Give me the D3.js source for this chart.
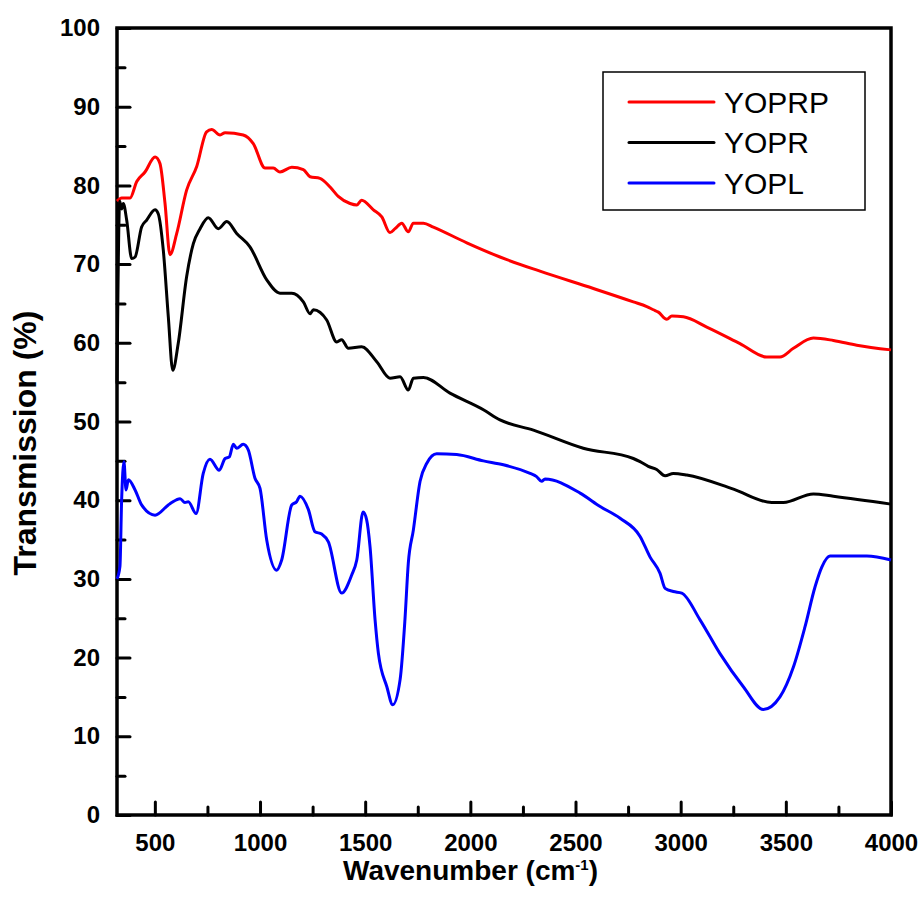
<!DOCTYPE html>
<html>
<head>
<meta charset="utf-8">
<script src="https://cdn.jsdelivr.net/npm/d3@7"></script>
<style>
  body { margin: 0; background: #fff; }
  text { font-family: "Liberation Sans", Arial, sans-serif; }
</style>
</head>
<body>
<script>
var width = 924,
  height = 900;

// spectra: [wavenumber, transmission]
var yoprp = [[320,78],[342,78.4],[382,78.4],[414,80.5],[453,81.7],[501,83.6],[524,82.8],[548,77.8],[572,71.2],[604,73.9],
  [651,79.4],[699,82.4],[746,86.8],[770,87.1],[810,86.4],[834,86.7],[920,86.4],[968,85.3],[1024,82.2],[1063,82.2],
  [1095,81.7],[1151,82.3],[1206,82.0],[1238,81.1],[1285,80.9],[1333,79.8],[1372,78.6],[1428,77.7],[1460,77.5],[1483,78.1],
  [1539,76.9],[1579,76.0],[1618,74.0],[1642,74.5],[1674,75.2],[1705,74.1],[1729,75.2],[1777,75.2],[1824,74.7],[1983,72.7],
  [2141,70.9],[2331,69.1],[2585,66.9],[2775,65.2],[2839,64.6],[2870,64.2],[2894,63.9],[2934,63.0],[2958,63.4],[3013,63.3],
  [3124,62.0],[3282,59.9],[3409,58.2],[3472,58.2],[3536,59.3],[3631,60.6],[3726,60.3],[3837,59.7],[4000,59.1]];

var yopr = [[320,55],[333,78],[342,77],[350,77.7],[366,75.6],[390,70.7],[406,70.9],[437,74.7],[461,75.6],[501,76.9],
  [516,76.4],[540,71.8],[564,63.3],[585,56.5],[611,59.9],[651,68.4],[683,72.6],[715,74.5],[754,75.9],[802,74.5],
  [842,75.4],[889,73.9],[952,72.2],[1032,68.0],[1095,66.3],[1151,66.3],[1206,65.2],[1238,63.7],[1254,64.2],[1317,62.9],
  [1365,60.1],[1388,60.4],[1420,59.3],[1483,59.5],[1555,57.6],[1618,55.5],[1666,55.7],[1705,54.0],[1729,55.5],[1777,55.6],
  [1903,53.6],[2062,51.5],[2141,50.2],[2300,48.9],[2537,46.6],[2775,45.3],[2807,44.9],[2846,44.3],[2886,43.9],[2926,43.1],
  [2965,43.4],[3029,43.2],[3251,41.4],[3433,39.7],[3488,39.7],[3631,40.8],[3726,40.5],[4000,39.5]];

var yopl = [[320,30],[334,31.6],[342,40.0],[353,44.9],[363,41.3],[374,42.6],[406,41.3],[437,39.4],[501,38.1],[564,39.4],
  [580,39.7],[620,40.2],[643,39.7],[659,39.8],[696,38.3],[730,43.4],[762,45.2],[806,43.8],[834,45.3],[854,45.5],
  [873,47.1],[889,46.6],[920,47.1],[944,46.4],[976,42.8],[1000,41.5],[1032,34.9],[1079,31.1],[1103,32.4],[1151,39.4],
  [1174,39.8],[1190,40.5],[1230,38.8],[1261,36.0],[1293,35.7],[1325,34.7],[1388,28.2],[1436,30.5],[1460,32.4],[1490,38.5],
  [1507,37.5],[1523,34.1],[1547,24.8],[1563,20.5],[1603,16.3],[1631,14.0],[1666,17.2],[1689,24.8],[1705,32.0],[1729,36.2],
  [1761,42.4],[1793,44.7],[1840,45.9],[1935,45.8],[2062,45.0],[2157,44.5],[2284,43.4],[2315,43.0],[2339,42.4],[2355,42.7],
  [2522,40.9],[2617,39.2],[2712,37.7],[2807,35.4],[2854,32.8],[2902,30.7],[2926,28.8],[2965,28.4],[3005,28.2],[3092,24.8],
  [3187,20.5],[3298,16.3],[3393,13.4],[3472,15.0],[3536,18.8],[3591,23.9],[3639,29.0],[3671,31.5],[3710,32.9],[3885,32.9],
  [4000,32.4]];

var seriesNames = ["YOPRP", "YOPR", "YOPL"];
var seriesColors = ["#ff0000", "#000000", "#0000ff"];
var xTicks = [500, 1000, 1500, 2000, 2500, 3000, 3500, 4000];
var yTicks = [0, 10, 20, 30, 40, 50, 60, 70, 80, 90, 100];

var margin = {left: 117, right: 33, top: 28, bottom: 85};

var svg = d3.select("body").append("svg")
  .attr("width", width)
  .attr("height", height)

var x = d3.scaleLinear().domain([320, 4000]).range([margin.left, width - margin.right]);
var y = d3.scaleLinear().domain([0, 100]).range([height - margin.bottom, margin.top]);

// minor ticks (inward, short)
var xMinor = d3.range(750, 4000, 500);
var yMinor = d3.range(5, 100, 10);

svg.append("g")
  .attr("transform", "translate(0," + y(0) + ")")
  .call(d3.axisBottom(x).tickValues(xMinor).tickSize(-8).tickFormat(""))
  .call(g => g.select(".domain").remove())
  .selectAll("line").attr("stroke-width", 3).attr("stroke-linecap", "round");

svg.append("g")
  .attr("transform", "translate(" + x(320) + ",0)")
  .call(d3.axisLeft(y).tickValues(yMinor).tickSize(-8).tickFormat(""))
  .call(g => g.select(".domain").remove())
  .selectAll("line").attr("stroke-width", 3).attr("stroke-linecap", "round");

// major ticks with labels
var xAxis = svg.append("g")
  .attr("transform", "translate(0," + y(0) + ")")
  .call(d3.axisBottom(x).tickValues(xTicks).tickSize(-13).tickPadding(19).tickFormat(d3.format("d")))
xAxis.select(".domain").remove();
xAxis.selectAll("line").attr("stroke-width", 3).attr("stroke-linecap", "round");
xAxis.selectAll("text")
  .attr("font-size", 24).attr("font-weight", "bold")
  .attr("font-family", "Liberation Sans, Arial, sans-serif");

var yAxis = svg.append("g")
  .attr("transform", "translate(" + x(320) + ",0)")
  .call(d3.axisLeft(y).tickValues(yTicks).tickSize(-13).tickPadding(17))
yAxis.select(".domain").remove();
yAxis.selectAll("line").attr("stroke-width", 3).attr("stroke-linecap", "round");
yAxis.selectAll("text")
  .attr("font-size", 24).attr("font-weight", "bold")
  .attr("font-family", "Liberation Sans, Arial, sans-serif");

// frame
svg.append("rect")
  .attr("x", x(320)).attr("y", y(100))
  .attr("width", x(4000) - x(320)).attr("height", y(0) - y(100))
  .attr("fill", "none").attr("stroke", "#000").attr("stroke-width", 3.5);

// curves
var line = d3.line()
  .x(d => x(d[0]))
  .y(d => y(d[1]))
  .curve(d3.curveMonotoneX);

[yoprp, yopr, yopl].forEach(function (s, i) {
  svg.append("path")
    .datum(s)
    .attr("d", line)
    .attr("fill", "none")
    .attr("stroke", seriesColors[i])
    .attr("stroke-width", 3)
    .attr("stroke-linejoin", "round");
});

// axis titles
var xt = svg.append("text")
  .attr("x", 343).attr("y", 880)
  .attr("font-size", 28).attr("font-weight", "bold")
xt.append("tspan").text("Wavenumber (cm");
xt.append("tspan").attr("dy", -10).attr("font-size", 15).text("-1");
xt.append("tspan").attr("dy", 10).text(")");

svg.append("text")
  .attr("transform", "translate(36,443) rotate(-90)")
  .attr("text-anchor", "middle")
  .attr("font-size", 32).attr("font-weight", "bold")
  .text("Transmission (%)");

// legend
var lg = svg.append("g").attr("transform", "translate(603,72)");
lg.append("rect")
  .attr("width", 262).attr("height", 138)
  .attr("fill", "#fff").attr("stroke", "#000").attr("stroke-width", 1.5);
seriesNames.forEach(function (n, i) {
  var yy = 30 + i * 40.5;
  lg.append("line")
    .attr("x1", 26).attr("x2", 111).attr("y1", yy).attr("y2", yy)
    .attr("stroke", seriesColors[i]).attr("stroke-width", 3).attr("stroke-linecap", "round");
  lg.append("text")
    .attr("x", 121).attr("y", yy).attr("dy", "0.36em")
    .attr("font-size", 30)
    .text(n);
});
</script>
</body>
</html>
